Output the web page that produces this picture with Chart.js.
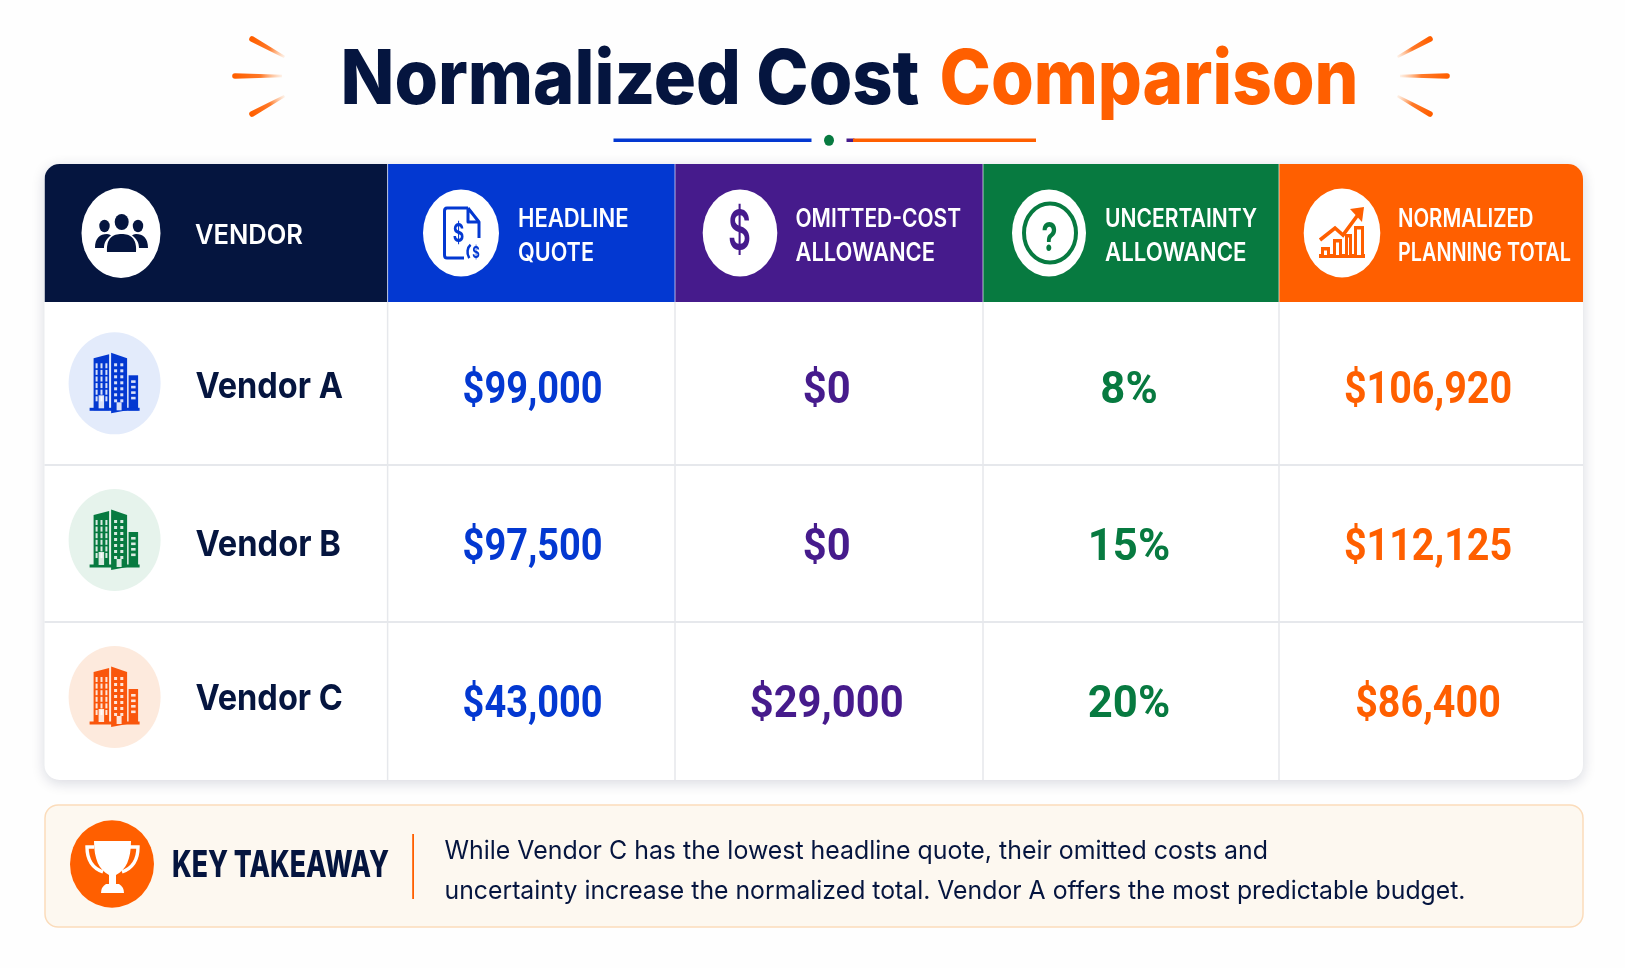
<!DOCTYPE html>
<html>
<head>
<meta charset="utf-8">
<title>Normalized Cost Comparison</title>
<script src="https://cdn.jsdelivr.net/npm/chart.js@4"></script>
<style>
html, body { margin: 0; padding: 0; background: #fefefe; }
canvas { display: block; }
</style>
</head>
<body>
<canvas id="costTable" width="1625" height="968"></canvas>
<script>
// table contents
var vendors = ["Vendor A", "Vendor B", "Vendor C"];
var headlineQuote = [99000, 97500, 43000];
var omittedCost = [0, 0, 29000];
var uncertaintyPct = [8, 15, 20];
var normalizedTotal = [106920, 112125, 86400];
var columnTitles = [["VENDOR"], ["HEADLINE", "QUOTE"], ["OMITTED-COST", "ALLOWANCE"], ["UNCERTAINTY", "ALLOWANCE"], ["NORMALIZED", "PLANNING TOTAL"]];
var titleParts = ["Normalized Cost", "Comparison"];
var takeawayTitle = "KEY TAKEAWAY";
var takeawayLines = [
	"While Vendor C has the lowest headline quote, their omitted costs and",
	"uncertainty increase the normalized total. Vendor A offers the most predictable budget."
];

// layout, in canvas pixels (the image is stretched a bit vertically, so text gets squeezed in x)
var NAVY = "#05153f", BLUE = "#0338d1", PURPLE = "#461b8c", GREEN = "#077a40", ORANGE = "#ff5f00";
var colEdges = [44.5, 387.6, 675, 983, 1279, 1583];
var rowEdges = [164, 302, 465, 622, 780];
var colColors = [NAVY, BLUE, PURPLE, GREEN, ORANGE];
var valueCenters = [532.6, 826.7, 1129, 1428];
var valueBaselines = [402.5, 559.5, 716.5];
var valueWiden = [1, 1.1, 1.15, 1.04];
var nameBaselines = [398, 555.5, 710];
var badgeCenters = [383.3, 540, 697];
var badgeFills = ["#e3ebfb", "#e6f3ec", "#fdeadd"];
var badgeInks = [BLUE, GREEN, "#f9560c"];
var headCircles = [[121, 233, 39.5, 45], [461, 233, 38, 43.5], [740, 233, 37.3, 43.5], [1049, 233, 37, 43.5], [1342, 233, 38.3, 44.5]];
var headTextX = [195, 518, 795.5, 1105, 1398];
var headWidths = [[108], [110.5, 76], [165.5, 139.5], [152, 141.5], [135.5, 173]];

function money(v) { return "$" + v.toLocaleString("en-US"); }
function pct(v) { return v + "%"; }

function fitText(ctx, str, x, y, font, color, width, align) {
	ctx.save();
	ctx.font = font;
	ctx.fillStyle = color;
	ctx.textBaseline = "alphabetic";
	ctx.textAlign = "left";
	var w = ctx.measureText(str).width;
	var sx = width / w;
	var left = align === "center" ? x - width / 2 : x;
	ctx.translate(left, y);
	ctx.scale(sx, 1);
	ctx.fillText(str, 0, 0);
	ctx.restore();
}

function oval(ctx, cx, cy, rx, ry, color) {
	ctx.fillStyle = color;
	ctx.beginPath();
	ctx.ellipse(cx, cy, rx, ry, 0, 0, Math.PI * 2);
	ctx.fill();
}

function spark(ctx, x1, y1, x2, y2) {
	// thick rounded at x1,y1 and fading out to x2,y2
	var g = ctx.createLinearGradient(x1, y1, x2, y2);
	g.addColorStop(0, ORANGE);
	g.addColorStop(0.55, "#ff7a2a");
	g.addColorStop(1, "rgba(255,170,110,0.15)");
	var a = Math.atan2(y2 - y1, x2 - x1), nx = -Math.sin(a), ny = Math.cos(a);
	ctx.fillStyle = g;
	ctx.beginPath();
	ctx.arc(x1, y1, 2.8, a + Math.PI / 2, a - Math.PI / 2);
	ctx.lineTo(x2 - nx * 1.2, y2 - ny * 1.2);
	ctx.lineTo(x2 + nx * 1.2, y2 + ny * 1.2);
	ctx.closePath();
	ctx.fill();
}

function drawBuilding(ctx, cx, cy, ink) {
	ctx.save();
	ctx.translate(cx, cy);
	ctx.fillStyle = ink;
	ctx.beginPath(); ctx.moveTo(-21, -25); ctx.lineTo(-5.5, -29); ctx.lineTo(-5.5, 27); ctx.lineTo(-21, 27); ctx.fill();
	ctx.beginPath(); ctx.moveTo(-3.5, -30.5); ctx.lineTo(12.5, -25); ctx.lineTo(12.5, 27); ctx.lineTo(-3.5, 30); ctx.fill();
	ctx.fillRect(14, -8, 9.5, 35);
	ctx.fillRect(-25, 24.5, 50, 3);
	ctx.fillStyle = "rgba(255,255,255,0.85)";
	// tower windows
	var i, j;
	for (i = 0; i < 3; i++) {
		for (j = 0; j < 6; j++) ctx.fillRect(-19 + i * 4.9, -20 + j * 6.6, 2, 5);
	}
	ctx.fillRect(-16, 12, 5.5, 13);
	for (i = 0; i < 2; i++) {
		for (j = 0; j < 7; j++) ctx.fillRect(-0.5 + i * 6.2, -20 + j * 6, 3, 3);
	}
	ctx.fillRect(2, 19, 5, 8);
	for (j = 0; j < 4; j++) ctx.fillRect(16.5, -3 + j * 5.5, 4.5, 2.6);
	ctx.restore();
}

function drawPeople(ctx, cx, cy) {
	ctx.save();
	ctx.translate(cx, cy);
	oval(ctx, 0.7, -11, 7, 8, NAVY);
	oval(ctx, -16.5, -7, 5.2, 6.2, NAVY);
	oval(ctx, 17, -7, 5.2, 6.2, NAVY);
	ctx.fillStyle = NAVY;
	ctx.beginPath();
	ctx.moveTo(-14, 19); ctx.bezierCurveTo(-15, 5, -8, 1, 0.7, 1); ctx.bezierCurveTo(9, 1, 16, 5, 15, 19); ctx.closePath(); ctx.fill();
	ctx.beginPath();
	ctx.moveTo(-26, 15); ctx.bezierCurveTo(-26, 5, -21, 1, -14, 1); ctx.bezierCurveTo(-12, 1, -11, 2, -10, 2.5); ctx.bezierCurveTo(-15, 6, -17, 10, -17, 15); ctx.closePath(); ctx.fill();
	ctx.beginPath();
	ctx.moveTo(27, 15); ctx.bezierCurveTo(27, 5, 22, 1, 15, 1); ctx.bezierCurveTo(13, 1, 12, 2, 11, 2.5); ctx.bezierCurveTo(16, 6, 18, 10, 18, 15); ctx.closePath(); ctx.fill();
	ctx.restore();
}

function drawDoc(ctx) {
	ctx.save();
	ctx.strokeStyle = BLUE;
	ctx.lineWidth = 3;
	ctx.lineJoin = "round";
	ctx.beginPath();
	ctx.moveTo(468, 208); ctx.lineTo(447, 208); ctx.quadraticCurveTo(444.5, 208, 444.5, 211);
	ctx.lineTo(444.5, 255); ctx.quadraticCurveTo(444.5, 258, 447, 258); ctx.lineTo(464, 258);
	ctx.moveTo(468, 208); ctx.lineTo(479, 222); ctx.lineTo(479, 238);
	ctx.moveTo(468, 208); ctx.lineTo(468, 222); ctx.lineTo(479, 222);
	ctx.stroke();
	fitText(ctx, "$", 458.5, 242, "700 26px Inter", BLUE, 11.5, "center");
	oval(ctx, 475, 252, 10, 11.5, "#fff");
	ctx.lineWidth = 2.5;
	ctx.beginPath(); ctx.ellipse(475, 252, 7.5, 9, 0, -2.2, 2.4, true); ctx.stroke();
	fitText(ctx, "$", 476, 258, "700 16px Inter", BLUE, 7.5, "center");
	ctx.restore();
}

function drawQuestion(ctx) {
	ctx.save();
	ctx.strokeStyle = GREEN;
	ctx.lineWidth = 4;
	ctx.beginPath(); ctx.ellipse(1050, 233, 26, 29.5, 0, 0, Math.PI * 2); ctx.stroke();
	fitText(ctx, "?", 1049.5, 250.5, "700 40px Inter", GREEN, 16, "center");
	ctx.restore();
}

function drawGrowth(ctx) {
	ctx.save();
	ctx.fillStyle = ORANGE;
	ctx.fillRect(1319, 254, 46, 4);
	var bars = [[1321, 247, 9], [1333, 239, 9], [1345, 234, 7], [1354, 226, 10]];
	bars.forEach(function (b) {
		ctx.fillStyle = ORANGE;
		ctx.fillRect(b[0], b[1], b[2], 255 - b[1]);
		ctx.fillStyle = "#fff";
		ctx.fillRect(b[0] + 3, b[1] + 3.5, b[2] - 6, 255 - b[1] - 3.5);
	});
	ctx.strokeStyle = ORANGE;
	ctx.lineWidth = 3.6;
	ctx.beginPath();
	ctx.moveTo(1320, 240); ctx.lineTo(1335, 228); ctx.lineTo(1343, 235); ctx.lineTo(1360, 212);
	ctx.stroke();
	ctx.fillStyle = ORANGE;
	ctx.beginPath(); ctx.moveTo(1364, 207); ctx.lineTo(1350, 209); ctx.lineTo(1362, 222); ctx.closePath(); ctx.fill();
	ctx.restore();
}

function drawTrophy(ctx, cx, cy) {
	ctx.save();
	ctx.translate(cx, cy);
	ctx.fillStyle = "#fff";
	ctx.strokeStyle = "#fff";
	ctx.lineWidth = 3.4;
	ctx.beginPath(); ctx.moveTo(-18, -17); ctx.lineTo(-25, -17); ctx.bezierCurveTo(-25, -4, -20, 4, -9, 8); ctx.stroke();
	ctx.beginPath(); ctx.moveTo(18, -17); ctx.lineTo(26, -17); ctx.bezierCurveTo(26, -4, 21, 4, 10, 8); ctx.stroke();
	ctx.beginPath();
	ctx.moveTo(-18, -23); ctx.lineTo(19, -23); ctx.bezierCurveTo(19, -5, 14, 6, 4, 11);
	ctx.lineTo(4, 20); ctx.lineTo(-3, 20); ctx.lineTo(-3, 11); ctx.bezierCurveTo(-13, 6, -18, -5, -18, -23);
	ctx.fill();
	ctx.beginPath();
	ctx.moveTo(-6, 20); ctx.lineTo(7, 20); ctx.quadraticCurveTo(12, 23, 12, 29); ctx.lineTo(-11, 29); ctx.quadraticCurveTo(-11, 23, -6, 20);
	ctx.fill();
	ctx.restore();
}

var tablePlugin = {
	id: "tablePlugin",
	beforeDatasetsDraw: function (chart) {
		var ctx = chart.ctx, sx = chart.scales.x, sy = chart.scales.y;
		var X = function (v) { return sx.getPixelForValue(v); };
		var Y = function (v) { return sy.getPixelForValue(v); };
		var left = X(colEdges[0]), right = X(colEdges[5]), top = Y(rowEdges[0]), bottom = Y(rowEdges[4]);
		var i;
		ctx.save();

		// title
		fitText(ctx, titleParts[0], 340.5, 104, "800 76px Inter", NAVY, 579);
		fitText(ctx, titleParts[1], 939.5, 104, "800 76px Inter", ORANGE, 419);
		spark(ctx, 252, 39, 284.5, 57); spark(ctx, 235, 76, 282, 76); spark(ctx, 252, 114, 284.5, 96);
		spark(ctx, 1430, 39, 1397.5, 57); spark(ctx, 1447, 76, 1400, 76); spark(ctx, 1430, 114, 1397.5, 96);

		// divider under title
		ctx.fillStyle = BLUE; ctx.fillRect(613.5, 138.5, 198, 3.5);
		ctx.fillStyle = PURPLE; ctx.fillRect(846.5, 138.5, 8, 3.5);
		ctx.fillStyle = ORANGE; ctx.fillRect(853, 138.5, 183, 3.5);
		oval(ctx, 829, 140.3, 5, 5.5, GREEN);

		// card with shadow
		ctx.save();
		ctx.shadowColor = "rgba(10,20,60,0.16)";
		ctx.shadowBlur = 14;
		ctx.shadowOffsetY = 3;
		ctx.fillStyle = "#fff";
		ctx.beginPath(); ctx.roundRect(left, top, right - left, bottom - top, 15); ctx.fill();
		ctx.restore();

		// header cells
		ctx.save();
		ctx.beginPath(); ctx.roundRect(left, top, right - left, bottom - top, 15); ctx.clip();
		for (i = 0; i < 5; i++) {
			ctx.fillStyle = colColors[i];
			ctx.fillRect(X(colEdges[i]), Y(rowEdges[0]), X(colEdges[i + 1]) - X(colEdges[i]), Y(rowEdges[1]) - Y(rowEdges[0]));
		}
		ctx.restore();

		// grid
		ctx.fillStyle = "#e6e8ec";
		for (i = 2; i < 4; i++) ctx.fillRect(left, Y(rowEdges[i]) - 1, right - left, 2);
		for (i = 1; i < 5; i++) {
			ctx.fillStyle = "#e6e8ec";
			ctx.fillRect(X(colEdges[i]) - 0.75, Y(rowEdges[1]), 1.5, bottom - Y(rowEdges[1]));
			ctx.fillStyle = "rgba(255,255,255,0.65)";
			ctx.fillRect(X(colEdges[i]) - 0.5, top, 1, Y(rowEdges[1]) - top);
		}

		// header circles, icons, labels
		headCircles.forEach(function (c) { oval(ctx, c[0], c[1], c[2], c[3], "#fff"); });
		drawPeople(ctx, 121, 233);
		drawDoc(ctx);
		fitText(ctx, "$", 739.5, 250, "600 56px Inter", PURPLE, 23, "center");
		drawQuestion(ctx);
		drawGrowth(ctx);
		columnTitles.forEach(function (lines, c) {
			if (lines.length === 1) {
				fitText(ctx, lines[0], headTextX[c], 244, "600 27px Inter", "#fff", headWidths[c][0]);
			} else {
				fitText(ctx, lines[0], headTextX[c], 226.7, "600 25.5px Inter", "#fff", headWidths[c][0]);
				fitText(ctx, lines[1], headTextX[c], 261, "600 25.5px Inter", "#fff", headWidths[c][1]);
			}
		});

		// vendor badges
		for (i = 0; i < vendors.length; i++) {
			oval(ctx, 114.6, badgeCenters[i], 46, 51, badgeFills[i]);
			drawBuilding(ctx, 114.6, badgeCenters[i], badgeInks[i]);
		}

		// takeaway box
		ctx.fillStyle = "#fdf8f0";
		ctx.strokeStyle = "#fbdcbb";
		ctx.lineWidth = 1.5;
		ctx.beginPath(); ctx.roundRect(45, 805, 1538, 122, 13); ctx.fill(); ctx.stroke();
		oval(ctx, 112, 864, 42, 43.7, ORANGE);
		drawTrophy(ctx, 112, 864);
		fitText(ctx, takeawayTitle, 172, 877.3, "800 36.5px Inter", NAVY, 217);
		ctx.fillStyle = ORANGE;
		ctx.fillRect(412.2, 834, 1.8, 65);
		fitText(ctx, takeawayLines[0], 444.5, 859.3, "400 25.5px Inter", NAVY, 823.5);
		fitText(ctx, takeawayLines[1], 444.5, 899, "400 25.5px Inter", NAVY, 1021);
		ctx.restore();
	},
	afterDatasetsDraw: function (chart) {
		var ctx = chart.ctx;
		chart.data.datasets.forEach(function (ds, d) {
			chart.getDatasetMeta(d).data.forEach(function (pt, i) {
				var raw = ds.data[i];
				if (ds.isName) {
					fitText(ctx, raw.text, pt.x - 1, pt.y, "700 36px Inter", NAVY, raw.text === "Vendor B" ? 145.5 : 147.5);
				} else {
					ctx.font = "700 45px Roboto";
					var text = ds.format(raw.v);
					var sx = 140 / ctx.measureText("$99,000").width;
					fitText(ctx, text, pt.x, pt.y, "700 45px Roboto", ds.ink, ctx.measureText(text).width * sx * ds.widen, "center");
				}
			});
		});
	}
};

function valueSet(label, values, column, ink, format) {
	return {
		label: label,
		ink: ink,
		format: format,
		widen: valueWiden[column],
		pointRadius: 0,
		data: values.map(function (v, i) { return { x: valueCenters[column], y: valueBaselines[i], v: v }; })
	};
}

var nameSet = {
	label: "Vendor",
	isName: true,
	pointRadius: 0,
	data: vendors.map(function (n, i) { return { x: 196.4, y: nameBaselines[i], text: n }; })
};

var barGraph = new Chart(document.getElementById("costTable"), {
	type: "scatter",
	data: {
		datasets: [
			nameSet,
			valueSet("Headline quote", headlineQuote, 0, BLUE, money),
			valueSet("Omitted-cost allowance", omittedCost, 1, PURPLE, money),
			valueSet("Uncertainty allowance", uncertaintyPct, 2, GREEN, pct),
			valueSet("Normalized planning total", normalizedTotal, 3, ORANGE, money)
		]
	},
	options: {
		responsive: false,
		animation: false,
		devicePixelRatio: 1,
		layout: { padding: 0 },
		plugins: { legend: { display: false }, tooltip: { enabled: false } },
		scales: {
			x: { type: "linear", min: 0, max: 1625, display: false },
			y: { type: "linear", min: 0, max: 968, reverse: true, display: false }
		}
	},
	plugins: [tablePlugin]
});
</script>
</body>
</html>
